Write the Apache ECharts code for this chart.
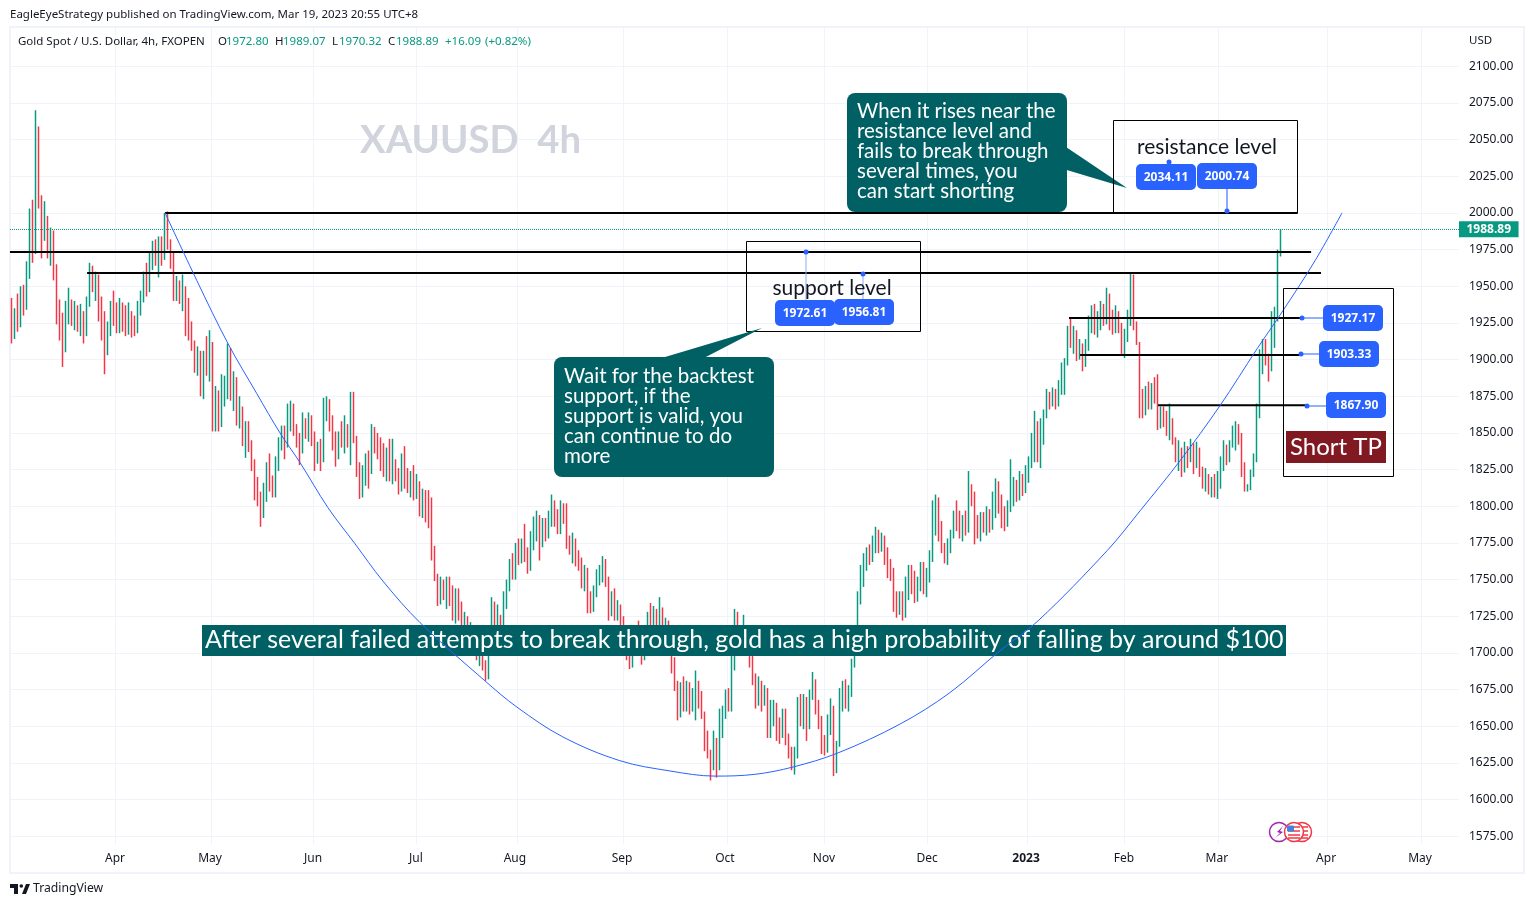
<!DOCTYPE html>
<html>

<head>
    <meta charset="utf-8" />
    <title>XAUUSD 4h</title>
    <script src="https://cdn.jsdelivr.net/npm/echarts@6/dist/echarts.min.js"></script>
    <style>
        html, body { margin: 0; padding: 0; background: #fff; }
        #chart { width: 1533px; height: 907px; }
    </style>
</head>

<body>
    <div id="chart"></div>

    <script>
        // every candle sits in one slot of the x axis, [open, close, low, high]
        var ohlc = [
            [1925,1918,1911,1942],[1918,1930,1914,1935],[1930,1924,1919,1945],[1924,1941,1922,1950],[1941,1936,1930,1951],[1936,1958,1934,1967],[1958,1990,1955,2003],[1990,1975,1966,2009],[1975,2040,1972,2070],[2040,2012,2003,2059],
            [2012,1985,1969,2012],[1985,2000,1981,2008],[1995,1978,1969,1998],[1978,1985,1964,1990],[1985,1962,1954,1988],[1962,1935,1924,1965],[1935,1925,1913,1941],[1925,1908,1895,1932],[1908,1930,1905,1940],[1930,1938,1924,1949],
            [1938,1926,1923,1941],[1926,1935,1920,1940],[1935,1922,1919,1937],[1922,1930,1916,1938],[1930,1918,1911,1933],[1918,1938,1916,1943],[1938,1958,1936,1966],[1958,1950,1946,1964],[1950,1956,1940,1960],[1956,1935,1926,1958],
            [1935,1920,1913,1943],[1920,1905,1890,1933],[1905,1918,1903,1926],[1918,1934,1916,1940],[1934,1928,1923,1947],[1928,1921,1918,1939],[1921,1935,1918,1942],[1935,1924,1919,1939],[1924,1920,1916,1937],[1920,1933,1917,1939],
            [1933,1922,1915,1933],[1922,1919,1916,1930],[1919,1935,1918,1940],[1935,1941,1930,1947],[1941,1954,1939,1960],[1954,1948,1943,1966],[1948,1968,1946,1974],[1968,1975,1961,1981],[1975,1967,1964,1982],[1967,1978,1956,1984],
            [1978,1970,1964,1984],[1970,1992,1968,2000],[1992,1977,1975,2001],[1977,1968,1962,1982],[1968,1945,1940,1974],[1945,1952,1940,1957],[1952,1942,1938,1954],[1942,1950,1933,1958],[1950,1925,1916,1950],[1925,1918,1913,1942],
            [1918,1908,1906,1926],[1908,1896,1891,1913],[1896,1904,1889,1909],[1904,1882,1875,1906],[1882,1899,1873,1906],[1899,1892,1889,1916],[1892,1912,1885,1920],[1912,1865,1851,1912],[1865,1873,1851,1882],[1873,1858,1851,1879],
            [1858,1870,1854,1890],[1870,1884,1868,1889],[1884,1902,1873,1911],[1902,1878,1872,1908],[1878,1888,1865,1892],[1888,1860,1855,1888],[1860,1866,1853,1875],[1866,1846,1841,1868],[1846,1852,1833,1858],[1852,1845,1837,1858],
            [1845,1830,1824,1845],[1830,1815,1804,1832],[1815,1805,1800,1820],[1805,1794,1786,1810],[1794,1806,1792,1816],[1806,1822,1803,1830],[1822,1816,1810,1836],[1816,1808,1806,1821],[1808,1826,1806,1834],[1826,1842,1824,1847],
            [1842,1850,1838,1855],[1850,1842,1832,1855],[1842,1862,1840,1870],[1862,1868,1851,1872],[1868,1854,1848,1870],[1854,1846,1840,1856],[1846,1838,1828,1850],[1838,1856,1836,1864],[1856,1850,1846,1860],[1850,1860,1844,1864],
            [1860,1848,1841,1862],[1848,1830,1824,1851],[1830,1838,1829,1844],[1838,1832,1824,1846],[1832,1866,1830,1874],[1866,1872,1858,1875],[1872,1860,1851,1873],[1860,1846,1838,1862],[1846,1834,1827,1851],[1834,1848,1832,1851],
            [1848,1842,1840,1858],[1842,1850,1836,1862],[1850,1843,1840,1856],[1843,1874,1828,1878],[1874,1846,1843,1878],[1846,1824,1820,1848],[1824,1812,1805,1830],[1812,1820,1806,1828],[1820,1832,1814,1836],[1832,1824,1812,1838],
            [1824,1850,1822,1856],[1850,1842,1836,1854],[1842,1838,1832,1850],[1838,1830,1824,1847],[1830,1822,1820,1843],[1822,1836,1817,1840],[1836,1822,1817,1846],[1822,1830,1815,1846],[1830,1818,1817,1832],[1818,1812,1808,1826],
            [1812,1828,1810,1836],[1828,1822,1812,1841],[1822,1812,1809,1826],[1812,1818,1806,1824],[1818,1808,1804,1828],[1808,1815,1805,1822],[1815,1796,1793,1817],[1796,1804,1792,1812],[1804,1795,1789,1811],[1795,1790,1785,1811],
            [1790,1770,1763,1806],[1770,1752,1749,1773],[1752,1736,1732,1754],[1736,1748,1733,1752],[1748,1742,1736,1750],[1742,1750,1730,1752],[1750,1738,1732,1752],[1738,1728,1722,1746],[1728,1740,1720,1744],[1740,1726,1722,1744],
            [1726,1715,1708,1735],[1715,1722,1710,1728],[1722,1710,1708,1725],[1710,1716,1704,1721],[1716,1704,1701,1718],[1704,1698,1695,1708],[1698,1706,1691,1710],[1706,1692,1688,1710],[1692,1684,1681,1695],[1684,1704,1682,1708],
            [1704,1728,1700,1738],[1728,1716,1710,1735],[1716,1722,1712,1733],[1722,1716,1708,1726],[1716,1738,1714,1742],[1738,1745,1730,1750],[1745,1760,1742,1764],[1760,1758,1750,1768],[1758,1772,1750,1775],[1772,1768,1760,1778],
            [1768,1772,1761,1778],[1772,1765,1762,1788],[1765,1758,1754,1772],[1758,1776,1756,1783],[1776,1786,1770,1793],[1786,1792,1776,1797],[1792,1776,1763,1794],[1776,1785,1772,1792],[1785,1780,1776,1792],[1780,1792,1778,1797],
            [1792,1800,1786,1808],[1800,1792,1786,1804],[1792,1783,1781,1798],[1783,1799,1781,1804],[1799,1790,1788,1802],[1790,1776,1771,1802],[1776,1770,1767,1780],[1770,1776,1761,1782],[1776,1764,1759,1778],[1764,1758,1756,1770],
            [1758,1750,1744,1765],[1750,1756,1742,1760],[1756,1738,1727,1758],[1738,1730,1727,1742],[1730,1742,1728,1746],[1742,1752,1738,1757],[1752,1757,1746,1760],[1757,1762,1748,1766],[1762,1750,1745,1764],[1750,1728,1722,1752],
            [1728,1738,1725,1742],[1738,1726,1722,1744],[1726,1732,1722,1736],[1732,1720,1715,1733],[1720,1712,1708,1725],[1712,1700,1695,1714],[1700,1694,1689,1707],[1694,1704,1690,1708],[1704,1715,1700,1718],[1715,1708,1703,1722],
            [1708,1700,1692,1715],[1700,1712,1695,1718],[1712,1722,1708,1728],[1722,1716,1708,1734],[1716,1726,1704,1732],[1726,1718,1710,1730],[1718,1728,1715,1738],[1728,1712,1708,1731],[1712,1718,1700,1724],[1718,1706,1698,1722],
            [1706,1693,1686,1708],[1693,1678,1674,1697],[1678,1662,1654,1681],[1662,1676,1656,1680],[1676,1668,1660,1684],[1668,1678,1660,1681],[1678,1665,1658,1680],[1665,1672,1660,1676],[1672,1680,1654,1688],[1680,1666,1662,1681],
            [1666,1656,1655,1674],[1656,1640,1633,1660],[1640,1632,1628,1647],[1632,1622,1613,1634],[1622,1640,1620,1647],[1640,1622,1615,1642],[1622,1650,1620,1662],[1650,1660,1642,1664],[1660,1672,1655,1675],[1672,1664,1660,1676],
            [1664,1690,1660,1700],[1690,1722,1688,1730],[1722,1715,1708,1728],[1715,1708,1700,1718],[1708,1716,1702,1726],[1716,1704,1698,1718],[1704,1696,1690,1708],[1696,1682,1678,1700],[1682,1668,1662,1686],[1668,1680,1664,1684],
            [1680,1668,1660,1681],[1668,1674,1664,1678],[1674,1650,1642,1676],[1650,1658,1642,1668],[1658,1664,1650,1668],[1664,1652,1640,1666],[1652,1644,1638,1656],[1644,1660,1642,1662],[1660,1642,1637,1662],[1642,1632,1628,1645],
            [1632,1625,1620,1636],[1625,1630,1617,1636],[1630,1664,1628,1670],[1664,1656,1650,1672],[1656,1668,1648,1672],[1668,1650,1640,1670],[1650,1672,1648,1675],[1672,1680,1668,1687],[1680,1664,1658,1682],[1664,1655,1648,1668],
            [1655,1638,1631,1657],[1638,1634,1630,1644],[1634,1650,1632,1658],[1650,1660,1644,1669],[1660,1630,1616,1664],[1630,1638,1618,1640],[1638,1668,1636,1676],[1668,1674,1660,1681],[1674,1666,1662,1682],[1666,1672,1660,1678],
            [1672,1692,1670,1696],[1692,1712,1690,1718],[1712,1735,1710,1742],[1735,1755,1733,1760],[1755,1762,1745,1768],[1762,1770,1756,1772],[1770,1766,1760,1774],[1766,1776,1762,1780],[1776,1782,1768,1786],[1782,1772,1768,1784],
            [1772,1778,1769,1782],[1778,1768,1760,1780],[1768,1760,1751,1772],[1760,1756,1749,1764],[1756,1740,1728,1758],[1740,1730,1724,1742],[1730,1738,1726,1742],[1738,1726,1722,1742],[1726,1742,1724,1752],[1742,1750,1736,1760],
            [1750,1745,1740,1760],[1745,1738,1734,1756],[1738,1746,1735,1752],[1746,1755,1742,1762],[1755,1742,1740,1762],[1742,1750,1738,1758],[1750,1765,1748,1770],[1765,1790,1762,1804],[1790,1796,1780,1808],[1796,1782,1776,1806],
            [1782,1770,1768,1790],[1770,1762,1761,1775],[1762,1772,1760,1778],[1772,1780,1768,1784],[1780,1792,1778,1797],[1792,1786,1783,1804],[1786,1778,1778,1797],[1778,1788,1776,1794],[1788,1784,1780,1797],[1784,1815,1782,1824],
            [1815,1808,1800,1815],[1808,1786,1774,1810],[1786,1780,1778,1794],[1780,1790,1776,1796],[1790,1784,1782,1796],[1784,1795,1780,1800],[1795,1786,1782,1798],[1786,1800,1784,1810],[1800,1812,1792,1819],[1812,1806,1795,1817],
            [1806,1796,1785,1808],[1796,1788,1783,1800],[1788,1800,1786,1804],[1800,1808,1796,1832],[1808,1815,1800,1820],[1815,1806,1803,1818],[1806,1816,1804,1824],[1816,1811,1807,1822],[1811,1820,1809,1828],[1820,1830,1816,1834],
            [1830,1845,1826,1850],[1845,1852,1830,1865],[1852,1838,1830,1858],[1838,1848,1826,1860],[1848,1862,1842,1866],[1862,1876,1860,1880],[1876,1870,1866,1878],[1870,1878,1868,1881],[1878,1870,1866,1880],[1870,1880,1868,1886],
            [1880,1892,1876,1898],[1892,1898,1876,1901],[1898,1918,1896,1923],[1918,1912,1908,1928],[1912,1918,1904,1923],[1918,1904,1899,1920],[1904,1910,1900,1914],[1910,1900,1892,1911],[1900,1908,1895,1914],[1908,1925,1906,1930],
            [1925,1933,1918,1937],[1933,1922,1917,1938],[1922,1930,1915,1933],[1930,1936,1920,1940],[1936,1925,1923,1938],[1925,1944,1924,1949],[1944,1928,1920,1945],[1928,1920,1917,1934],[1920,1930,1918,1937],[1930,1922,1918,1933],
            [1922,1912,1903,1925],[1912,1918,1901,1921],[1918,1925,1912,1934],[1925,1954,1923,1959],[1954,1925,1920,1958],[1925,1912,1910,1926],[1912,1875,1860,1912],[1875,1866,1860,1880],[1866,1876,1862,1882],[1876,1870,1866,1885],
            [1870,1880,1866,1884],[1880,1876,1870,1888],[1876,1858,1852,1890],[1858,1864,1853,1868],[1864,1856,1854,1868],[1856,1848,1848,1865],[1848,1860,1845,1870],[1860,1845,1842,1860],[1845,1832,1830,1847],[1832,1840,1824,1845],
            [1840,1825,1820,1840],[1825,1838,1823,1844],[1838,1830,1826,1841],[1830,1840,1830,1846],[1840,1826,1822,1843],[1826,1836,1826,1844],[1836,1824,1820,1840],[1824,1815,1812,1827],[1815,1822,1810,1826],[1822,1812,1808,1822],
            [1812,1818,1806,1820],[1818,1810,1806,1822],[1810,1816,1805,1824],[1816,1830,1812,1834],[1830,1840,1824,1845],[1840,1834,1828,1842],[1834,1842,1830,1845],[1842,1852,1840,1855],[1852,1858,1838,1858],[1854,1846,1842,1856],
            [1846,1824,1820,1850],[1824,1812,1810,1830],[1812,1813,1810,1815],[1813,1822,1811,1825],[1822,1832,1820,1836],[1832,1862,1830,1870],[1862,1895,1860,1907],[1895,1908,1890,1914],[1908,1900,1896,1914],[1900,1895,1885,1904],
            [1895,1920,1892,1933],[1920,1930,1908,1936],[1930,1972.8,1926,1975],[1972.8,1988.89,1970.32,1989.07]
        ];

        var priceTicks = [1575,1600,1625,1650,1675,1700,1725,1750,1775,1800,1825,1850,1875,1900,1925,1950,1975,2000,2025,2050,2075,2100];
        var monthLabels = ['Apr','May','Jun','Jul','Aug','Sep','Oct','Nov','Dec','2023','Feb','Mar','Apr','May'];
        var monthGridSlots = [35,67,101,135.3,169,204.3,239,271.3,305.7,339,371.3,402.7,439,470.3];
        var monthLabelSlots = [35,66.7,101,135.3,168.3,204,238.3,271.3,305.7,338.7,371.3,402.3,438.7,470];

        var lastPrice = 1988.89;

        // drawn levels, as they sit in the picture
        var levelPrices = [2000,1973.4,1959,1928.4,1903.1,1868.8];
        var levelFrom = [51.7,0,25.7,353,356.7,382.7];
        var levelTo = [429,433.7,437,430.7,430.3,432.3];

        // the blue arc
        var arcSlots = [51.7,62.3,72.7,82.3,90,96.7,106,115,124.3,136.7,158.3,169,184.3,203.3,220,235,248.3,261,276,296.7,313.3,330,342.7,365.7,376.7,390,403.3,415.7,424.3,435,444];
        var arcPrices = [2000,1953.8,1910.8,1876.7,1850,1829.7,1799,1774.4,1749,1720.6,1681,1663,1642.7,1626.5,1619.5,1616,1617.2,1622.2,1631.8,1651.5,1672.9,1701.5,1721.9,1769.7,1796.9,1831,1868.5,1907.4,1933.3,1967.4,2000];

        var headerPieces = [
            ['Gold Spot / U.S. Dollar, 4h, FXOPEN', 18, '#131722'],
            ['O', 218, '#131722'], ['1972.80', 226, '#089981'],
            ['H', 275, '#131722'], ['1989.07', 283, '#089981'],
            ['L', 332, '#131722'], ['1970.32', 339, '#089981'],
            ['C', 388, '#131722'], ['1988.89', 396, '#089981'],
            ['+16.09', 445, '#089981'], ['(+0.82%)', 485, '#089981']
        ];

        //----------------------------------
        var FONT = '"Noto Sans", sans-serif';
        var NOTE_FONT = 'Lato, sans-serif';
        var TEAL = '#006064';
        var BLUE = '#2962FF';
        var UP = '#089981';
        var DOWN = '#F23645';

        var els = [];

        function addText(text, x, y, size, color, extra) {
            extra = extra || {};
            var style = { text: text, x: x, y: y, fill: color, font: (extra.weight || 'normal') + ' ' + size + 'px ' + (extra.font || FONT),
                align: extra.align || 'left', verticalAlign: 'middle' };
            if (extra.lineHeight) style.lineHeight = extra.lineHeight;
            els.push({ type: 'text', z: extra.z || 20, silent: true, style: style });
        }

        function addRect(x, y, w, h, fill, stroke, r, z, lineWidth) {
            els.push({ type: 'rect', z: z || 10, silent: true, shape: { x: x, y: y, width: w, height: h, r: r || 0 },
                style: { fill: fill || 'transparent', stroke: stroke || null, lineWidth: lineWidth || 1 } });
        }

        function addPoly(points, fill, z) {
            els.push({ type: 'polygon', z: z || 10, silent: true, shape: { points: points }, style: { fill: fill } });
        }

        function addLine(x1, y1, x2, y2, color, width, z) {
            els.push({ type: 'line', z: z || 15, silent: true, shape: { x1: x1, y1: y1, x2: x2, y2: y2 }, style: { stroke: color, lineWidth: width || 1 } });
        }

        function addDot(x, y, color) {
            els.push({ type: 'circle', z: 16, silent: true, shape: { cx: x, cy: y, r: 2.5 }, style: { fill: color || BLUE } });
        }

        function addPill(x, y, w, h, label) {
            addRect(x, y, w, h, BLUE, null, 5, 17);
            addText(label, x + w / 2, y + h / 2 + 0.5, 12, '#fff', { align: 'center', weight: 'bold', z: 18 });
        }

        // page frame and headers
        addRect(10, 27, 1514, 846, null, '#F0F3FA', 0, 1, 2);
        addText('EagleEyeStrategy published on TradingView.com, Mar 19, 2023 20:55 UTC+8', 10, 15, 11.5, '#131722');
        headerPieces.forEach(function (p) { addText(p[0], p[1], 42, 11.5, p[2]); });
        addText('USD', 1469, 41, 11.5, '#131722');
        addText('XAUUSD  4h', 360, 141, 38.3, '#D1D4DC', { weight: 'bold', z: 0, font: NOTE_FONT });

        // banner across the chart
        addRect(202, 625, 1084, 31, TEAL, null, 0, 4);
        addText('After several failed attempts to break through, gold has a high probability of falling by around $100', 205, 640, 25, '#fff', { z: 4, font: NOTE_FONT });

        // resistance note
        addPoly([[1060, 143], [1060, 168], [1127, 188]], TEAL, 11);
        addRect(847, 93, 220, 119, TEAL, null, 8, 11);
        addText('When it rises near the\nresistance level and\nfails to break through\nseveral times, you\ncan start shorting', 857, 151, 20.5, '#fff', { lineHeight: 20, z: 12, font: NOTE_FONT });
        addRect(1113.5, 120.5, 184, 93, null, '#000', 0, 11);
        addText('resistance level', 1207, 147, 21, '#131722', { align: 'center', font: NOTE_FONT });
        addLine(1227, 189, 1227, 211, '#8FA9FF', 2);
        addDot(1169, 162);
        addDot(1227, 211);
        addPill(1136, 164, 60, 26, '2034.11');
        addPill(1197, 163, 60, 26, '2000.74');

        // support note
        addRect(746.5, 241.5, 174, 90, null, '#000', 0, 11);
        addText('support level', 832, 288, 21, '#131722', { align: 'center', font: NOTE_FONT });
        addLine(806, 252, 806, 300, '#8FA9FF', 1);
        addLine(863, 274, 863, 300, '#8FA9FF', 1);
        addDot(806, 252);
        addDot(863, 274);
        addPill(775, 300, 60, 26, '1972.61');
        addPill(834, 299, 60, 26, '1956.81');
        addPoly([[655, 360], [700, 360], [762, 328]], TEAL, 11);
        addRect(554, 357, 220, 120, TEAL, null, 8, 11);
        addText('Wait for the backtest\nsupport, if the\nsupport is valid, you\ncan continue to do\nmore', 564, 416, 20.5, '#fff', { lineHeight: 20, z: 12, font: NOTE_FONT });

        // short targets
        addRect(1283.5, 288.5, 110, 188, null, '#000', 0, 11);
        addLine(1302, 318, 1323, 318, BLUE, 1);
        addLine(1301, 354, 1319, 354, BLUE, 1);
        addLine(1307, 406, 1326, 406, BLUE, 1);
        addDot(1302, 318);
        addDot(1301, 354);
        addDot(1307, 406);
        addPill(1323, 305, 60, 26, '1927.17');
        addPill(1319, 341, 60, 26, '1903.33');
        addPill(1326, 392, 60, 26, '1867.90');
        addRect(1286, 431, 100, 32, '#801922', null, 0, 11);
        addText('Short TP', 1336, 447, 24, '#fff', { align: 'center', font: NOTE_FONT });

        // event markers on the time scale
        els.push({ type: 'circle', z: 12, silent: true, shape: { cx: 1279, cy: 832, r: 9.5 }, style: { fill: '#fff', stroke: '#9C27B0', lineWidth: 1.5 } });
        addPoly([[1283, 826], [1277, 832], [1280, 833], [1275, 838], [1283, 832], [1280, 831]], '#9C27B0', 13);
        [1302, 1294].forEach(function (cx, i) {
            els.push({ type: 'circle', z: 13 + i, silent: true, shape: { cx: cx, cy: 832, r: 9.5 }, style: { fill: '#fff', stroke: DOWN, lineWidth: 1.5 } });
            [827, 831, 835, 838].forEach(function (y) { addLine(cx - 6, y, cx + 6, y, DOWN, 1.5, 13 + i); });
            addRect(cx - 7, 825.5, 7, 6, '#3D85E0', null, 1, 13 + i);
        });

        // logo at the foot of the page
        addPoly([[10, 884], [18, 884], [18, 894], [14, 894], [14, 888], [10, 888]], '#131722', 20);
        els.push({ type: 'circle', z: 20, silent: true, shape: { cx: 21.3, cy: 886, r: 1.8 }, style: { fill: '#131722' } });
        addPoly([[26, 884], [30, 884], [26, 894], [22, 894]], '#131722', 20);
        addText('TradingView', 33, 889, 12.2, '#131722');

        //----------------------------------
        var series = [{
            type: 'candlestick',
            z: 2,
            barWidth: 1,
            encode: { x: 0, y: [1, 2, 3, 4] },
            data: ohlc.map(function (r, i) { return [i + 0.5, r[0], r[1], r[2], r[3]]; }),
            itemStyle: { color: UP, color0: DOWN, borderColor: UP, borderColor0: DOWN, borderWidth: 1.5 },
            markLine: {
                silent: true,
                symbol: 'none',
                animation: false,
                lineStyle: { color: UP, type: 'dotted', width: 1 },
                label: { position: 'end', distance: 0, formatter: lastPrice.toFixed(2), color: '#fff', backgroundColor: UP, padding: [2, 7.5], fontFamily: FONT, fontSize: 12, fontWeight: 'bold' },
                data: [{ yAxis: lastPrice }]
            }
        }, {
            type: 'line',
            z: 5,
            smooth: 0.35,
            showSymbol: false,
            silent: true,
            lineStyle: { color: BLUE, width: 1 },
            data: arcSlots.map(function (s, i) { return [s, arcPrices[i]]; })
        }];

        levelPrices.forEach(function (p, i) {
            series.push({
                type: 'line',
                z: 4,
                showSymbol: false,
                silent: true,
                lineStyle: { color: '#000', width: 2 },
                data: [[levelFrom[i], p], [levelTo[i], p]]
            });
        });

        var myChart = echarts.init(document.getElementById('chart'));

        myChart.setOption({
            animation: false,
            backgroundColor: '#fff',
            textStyle: { fontFamily: FONT },
            grid: { left: 10, right: 74, top: 28, bottom: 63 },
            xAxis: {
                type: 'value',
                min: 0,
                max: 483,
                axisLine: { show: false },
                axisTick: { show: false, customValues: monthGridSlots },
                splitLine: { show: true, lineStyle: { color: '#F0F3FA', width: 1 } },
                axisLabel: {
                    customValues: monthLabelSlots,
                    margin: 9,
                    color: '#131722',
                    fontSize: 12,
                    fontFamily: FONT,
                    formatter: function (v) {
                        var label = monthLabels[monthLabelSlots.indexOf(v)];
                        return label === '2023' ? '{b|2023}' : label;
                    },
                    rich: { b: { fontWeight: 'bold', color: '#131722', fontSize: 12, fontFamily: FONT } }
                }
            },
            yAxis: {
                type: 'value',
                position: 'right',
                min: 1569.7,
                max: 2126.1,
                axisLine: { show: false },
                axisTick: { show: false, customValues: priceTicks },
                splitLine: { show: true, lineStyle: { color: '#F0F3FA', width: 1 } },
                axisLabel: {
                    customValues: priceTicks,
                    margin: 10,
                    color: '#131722',
                    fontSize: 12,
                    fontFamily: FONT,
                    formatter: function (v) { return v.toFixed(2); }
                }
            },
            series: series,
            graphic: els
        });
    </script>
</body>

</html>
